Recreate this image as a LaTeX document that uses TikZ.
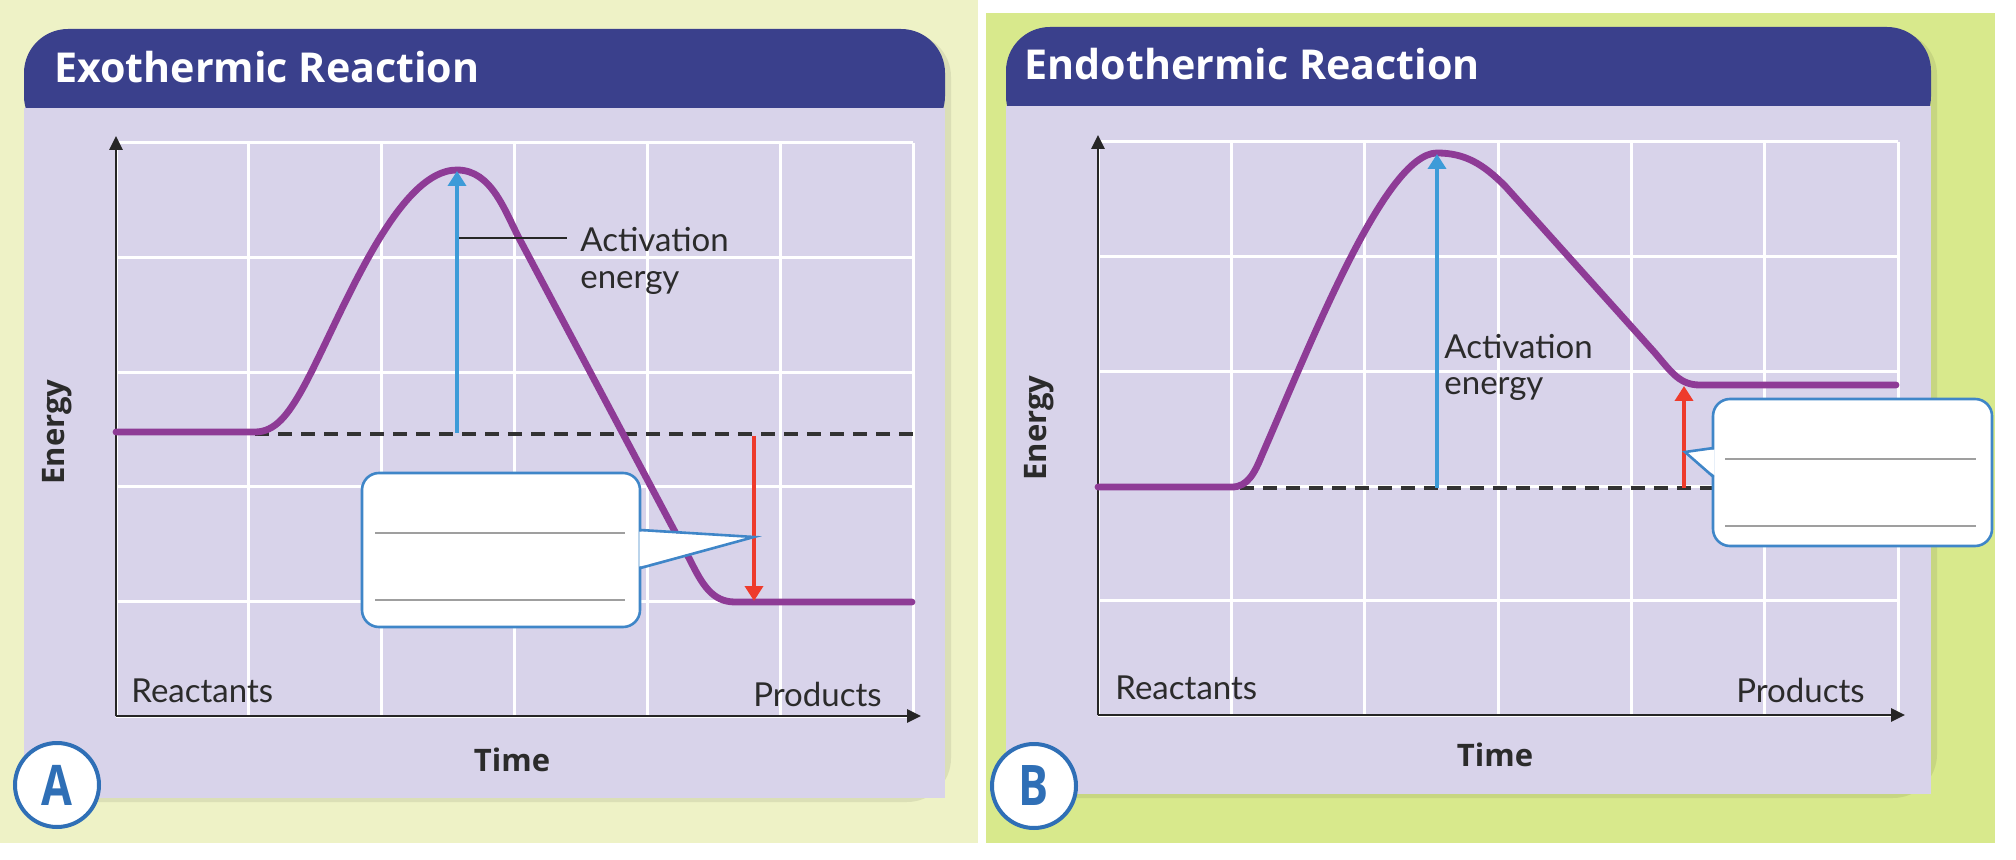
\documentclass[tikz,border=0pt]{standalone}
\usepackage{fontspec}
\setmainfont{Lato}
\newfontfamily\headfont{Open Sans}
\usetikzlibrary{arrows.meta}
\definecolor{bgA}{HTML}{EEF2C6}
\definecolor{bgB}{HTML}{D8E98C}
\definecolor{hdr}{HTML}{3A408C}
\definecolor{body}{HTML}{D8D3EA}
\definecolor{curvecol}{HTML}{8E3B96}
\definecolor{aeblue}{HTML}{3D9BD8}
\definecolor{dhred}{HTML}{EE3B2C}
\definecolor{calloutblue}{HTML}{3F86C8}
\definecolor{badgeblue}{HTML}{2F6FB6}
\definecolor{txt}{HTML}{2B2B2B}
\begin{document}
\begin{tikzpicture}[x=0.5pt,y=-0.5pt,
  gridline/.style={white, line width=1.5pt},
  axis/.style={line width=1.4pt, black!85, -{Triangle[width=6.5pt,length=7pt]}},
  curve/.style={line width=3.4pt, curvecol, line cap=round, line join=round},
  dashline/.style={line width=1.6pt, dash pattern=on 7pt off 4.5pt, black!80},
  aearrow/.style={line width=1.8pt, aeblue, -{Triangle[width=9pt,length=7.5pt]}},
  dharrow/.style={line width=1.8pt, dhred, -{Triangle[width=9pt,length=7.5pt]}},
  leader/.style={line width=1.2pt, black!85},
  lbl/.style={font=\fontsize{16.5}{19}\selectfont, text=txt, inner sep=0pt},
  axlbl/.style={font=\headfont\fontsize{15.5}{18}\selectfont\bfseries, text=txt, inner sep=0pt},
  titletext/.style={font=\headfont\fontsize{20.6}{23}\selectfont\bfseries, text=white, inner sep=0pt},
  badge/.style={circle, draw=badgeblue, line width=2pt, fill=white, minimum size=42pt, inner sep=0pt, text=badgeblue, font=\headfont\fontsize{28}{30}\selectfont\bfseries},
  calloutedge/.style={draw=calloutblue, line width=1.3pt},
  writeline/.style={line width=1pt, gray!75},
  shadow/.style={fill=black, opacity=0.08}
]
\useasboundingbox (0,0) rectangle (2016,860);
% backgrounds
\fill[white] (0,0) rectangle (2016,860);
\fill[bgA] (0,0) rectangle (978,843);
\fill[bgB] (986,13) rectangle (1995,843);

% ================= Panel A =================
\fill[shadow, rounded corners=22] (28,33) rectangle (951,802);
\fill[hdr, rounded corners=22] (24,29) rectangle (945,140);
\fill[body] (24,108) rectangle (945,798);
\node[titletext, anchor=base west] (titleA) at (54,83) {Exothermic Reaction};
% grid
\foreach \x in {116,248.8,381.7,514.5,647.3,780.2,913} \draw[gridline] (\x,143) -- (\x,716);
\foreach \y in {143,257.6,372.2,486.8,601.4,716} \draw[gridline] (116,\y) -- (913,\y);
% axes
\coordinate (Aorig) at (116,716);
\coordinate (Aytop) at (116,136);
\coordinate (Axend) at (921,716);
\draw[axis] (Aorig) -- (Aytop);
\draw[axis] (Aorig) -- (Axend);
\node[axlbl, rotate=90] (energyA) at (57,432) {Energy};
\node[axlbl] (timeA) at (512,760) {Time};
\node[lbl, anchor=west] (reactA) at (131,691) {Reactants};
\node[lbl, anchor=east] (prodA) at (882,694) {Products};
% dashed reference
\coordinate (Adash1) at (255,434);
\coordinate (Adash2) at (915,434);
\draw[dashline] (Adash1) -- (Adash2);
% curve
\draw[curve] (116,432) -- (255,432) .. controls (275,432) and (288,415) .. (303,388)
  .. controls (340,320) and (395,170) .. (457,170)
  .. controls (492,170) and (505,212) .. (520,240) -- (690,560)
  .. controls (702,584) and (712,602) .. (735,602) -- (912,602);
% activation energy arrow
\coordinate (Abase) at (457,433);
\coordinate (Apeak) at (457,171);
\draw[aearrow] (Abase) -- (Apeak);
\coordinate (Alead1) at (459,238);
\node[lbl, anchor=west] (actA) at (580,240) {Activation};
\node[lbl, anchor=west] (engA) at (580,283) {energy};
\draw[leader] (Alead1) -- ([xshift=-6.5pt]actA.west |- Alead1);
% enthalpy arrow
\coordinate (Ared1) at (754,436);
\coordinate (Ared2) at (754,601);
\draw[dharrow] (Ared1) -- (Ared2);
% callout
\node[draw=calloutblue, line width=1.3pt, fill=white, rounded corners=8.5pt,
  minimum width=139pt, minimum height=77pt, inner sep=0pt] (calloutA) at (501,550) {};
\coordinate (Atip) at (754,537);
\fill[white] (639.3,531.5) -- (Atip) -- (639.3,566.5) -- cycle;
\draw[calloutedge, line join=miter] (640.5,530) -- (Atip) -- (640.5,568);
\draw[writeline] (375,533) -- (625,533);
\draw[writeline] (375,600) -- (625,600);
% badge
\node[badge] (badgeA) at (57,785) {\scalebox{0.8}[1]{A}};

% ================= Panel B =================
\fill[shadow, rounded corners=22] (1010,31) rectangle (1937,798);
\fill[hdr, rounded corners=22] (1006,27) rectangle (1931,140);
\fill[body] (1006,106) rectangle (1931,794);
\node[titletext, anchor=base west] (titleB) at (1024,80) {Endothermic Reaction};
% grid
\foreach \x in {1098,1231.3,1364.7,1498,1631.3,1764.7,1898} \draw[gridline] (\x,142) -- (\x,715);
\foreach \y in {142,256.6,371.2,486,600.4,715} \draw[gridline] (1098,\y) -- (1898,\y);
% axes
\coordinate (Borig) at (1098,715);
\coordinate (Bytop) at (1098,135);
\coordinate (Bxend) at (1905,715);
\draw[axis] (Borig) -- (Bytop);
\draw[axis] (Borig) -- (Bxend);
\node[axlbl, rotate=90] (energyB) at (1039,428) {Energy};
\node[axlbl] (timeB) at (1495,755) {Time};
\node[lbl, anchor=west] (reactB) at (1115,688) {Reactants};
\node[lbl, anchor=east] (prodB) at (1865,690) {Products};
% dashed reference
\coordinate (Bdash1) at (1240,488);
\coordinate (Bdash2) at (1713,488);
\draw[dashline] (Bdash1) -- (Bdash2);
% curve
\draw[curve] (1098,487) -- (1232,487) .. controls (1248,487) and (1255,472) .. (1262,455)
  .. controls (1310,345) and (1385,153) .. (1437,153)
  .. controls (1465,153) and (1483,164) .. (1505,186) -- (1655,353)
  .. controls (1672,373) and (1680,385) .. (1700,385) -- (1896,385);
% activation energy arrow
\coordinate (Bbase) at (1437,488);
\coordinate (Bpeak) at (1437,154);
\draw[aearrow] (Bbase) -- (Bpeak);
\node[lbl, anchor=west] (actB) at (1444,347) {Activation};
\node[lbl, anchor=west] (engB) at (1444,389) {energy};
% enthalpy arrow
\coordinate (Bred1) at (1684,488);
\coordinate (Bred2) at (1684,386);
\draw[dharrow] (Bred1) -- (Bred2);
% callout
\node[draw=calloutblue, line width=1.3pt, fill=white, rounded corners=8.5pt,
  minimum width=139.5pt, minimum height=73.5pt, inner sep=0pt] (calloutB) at (1852.5,472.5) {};
\coordinate (Btip) at (1685,452);
\fill[white] (1714.7,449.5) -- (Btip) -- (1714.7,475.5) -- cycle;
\draw[calloutedge, line join=miter] (1713.5,448) -- (Btip) -- (1713.5,477);
\draw[writeline] (1725,459) -- (1976,459);
\draw[writeline] (1725,526) -- (1976,526);
% badge
\node[badge] (badgeB) at (1034,786) {\scalebox{0.8}[1]{B}};
\end{tikzpicture}
\end{document}
